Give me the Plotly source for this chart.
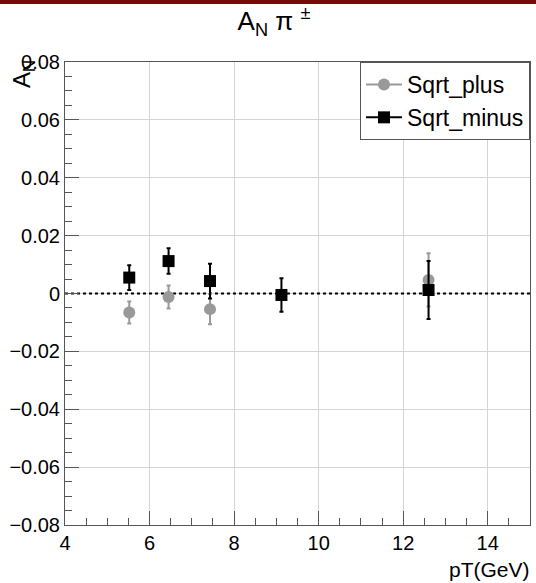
import plotly.graph_objects as go

# data
plus_x = [5.52, 6.45, 7.43, 12.6]
plus_y = [-0.0066, -0.0012, -0.0054, 0.0047]
plus_err = [0.0038, 0.0040, 0.0052, 0.0092]

minus_x = [5.52, 6.45, 7.43, 9.12, 12.6]
minus_y = [0.0055, 0.0112, 0.0043, -0.0005, 0.0012]
minus_err = [0.0043, 0.0044, 0.0060, 0.0058, 0.0100]

x_range = [4, 15]
y_range = [-0.08, 0.08]

W, H = 536, 583
ML, MR, MT, MB = 65, 6, 62, 58
PW = W - ML - MR
PH = H - MT - MB

FONT = "Liberation Sans, Arial, Helvetica, sans-serif"
GRAY = "#999999"

fig = go.Figure()

# data traces
fig.add_trace(go.Scatter(
    x=plus_x, y=plus_y, mode="markers", showlegend=False,
    marker=dict(symbol="circle", size=12, color=GRAY),
    error_y=dict(type="data", array=plus_err, color=GRAY, thickness=2, width=2),
))
fig.add_trace(go.Scatter(
    x=minus_x, y=minus_y, mode="markers", showlegend=False,
    marker=dict(symbol="square", size=12, color="black"),
    error_y=dict(type="data", array=minus_err, color="black", thickness=2, width=2),
))
# legend entries
fig.add_trace(go.Scatter(
    x=[None], y=[None], mode="lines+markers", name="Sqrt_plus",
    marker=dict(symbol="circle", size=12, color=GRAY),
    line=dict(color=GRAY, width=2),
))
fig.add_trace(go.Scatter(
    x=[None], y=[None], mode="lines+markers", name="Sqrt_minus",
    marker=dict(symbol="square", size=12, color="black"),
    line=dict(color="black", width=2),
))

# zero line
fig.add_shape(type="line", xref="x", yref="y", x0=x_range[0], x1=x_range[1], y0=0, y1=0,
              line=dict(color="black", width=2, dash="dot"), layer="between")

# top dark red bar
fig.add_shape(type="rect", xref="paper", yref="paper",
              x0=-ML / PW - 0.01, x1=1 + MR / PW + 0.01,
              y0=1 + (MT - 4) / PH, y1=1 + (MT + 2) / PH,
              line=dict(width=0), fillcolor="#7a0a0a", layer="above")

axis_common = dict(
    showline=True, linecolor="#555555", linewidth=1, mirror=True,
    ticks="inside", tickcolor="#555555", ticklen=14, tickwidth=1,
    showgrid=True, gridcolor="#d4d4d4", gridwidth=1,
    zeroline=False,
    tickfont=dict(family=FONT, size=20, color="black"),
)

fig.update_xaxes(range=x_range, tick0=4, dtick=2,
                 minor=dict(dtick=0.5, ticklen=7, tickcolor="#555555", ticks="inside", showgrid=False),
                 **axis_common)
fig.update_yaxes(range=y_range, tick0=0, dtick=0.02,
                 minor=dict(dtick=0.005, ticklen=7, tickcolor="#555555", ticks="inside", showgrid=False),
                 **axis_common)

fig.update_layout(
    width=W, height=H,
    margin=dict(l=ML, r=MR, t=MT, b=MB),
    paper_bgcolor="white", plot_bgcolor="white",
    font=dict(family=FONT, color="black"),
    title=dict(text="A<sub>N</sub> π <sup>±</sup>", xref="container", yref="container",
               x=274 / W, y=1 - 21 / H, xanchor="center", yanchor="middle",
               font=dict(family=FONT, size=26, color="black")),
    legend=dict(x=1, y=1, xanchor="right", yanchor="top",
                bgcolor="white", bordercolor="#555555", borderwidth=1,
                font=dict(family=FONT, size=23, color="black"),
                itemwidth=36, tracegroupgap=0),
    annotations=[
        dict(text="pT(GeV)", xref="paper", yref="paper", x=1 + 2 / PW, y=-(569 - (H - MB)) / PH,
             xanchor="right", yanchor="middle", showarrow=False,
             font=dict(family=FONT, size=21, color="black")),
        dict(text="A<sub>N</sub>", xref="paper", yref="paper", x=-(ML - 23) / PW,
             y=(H - MB - 74) / PH, xanchor="center", yanchor="middle", textangle=-90,
             showarrow=False, font=dict(family=FONT, size=24, color="black")),
    ],
)

fig.write_html("out.html")
